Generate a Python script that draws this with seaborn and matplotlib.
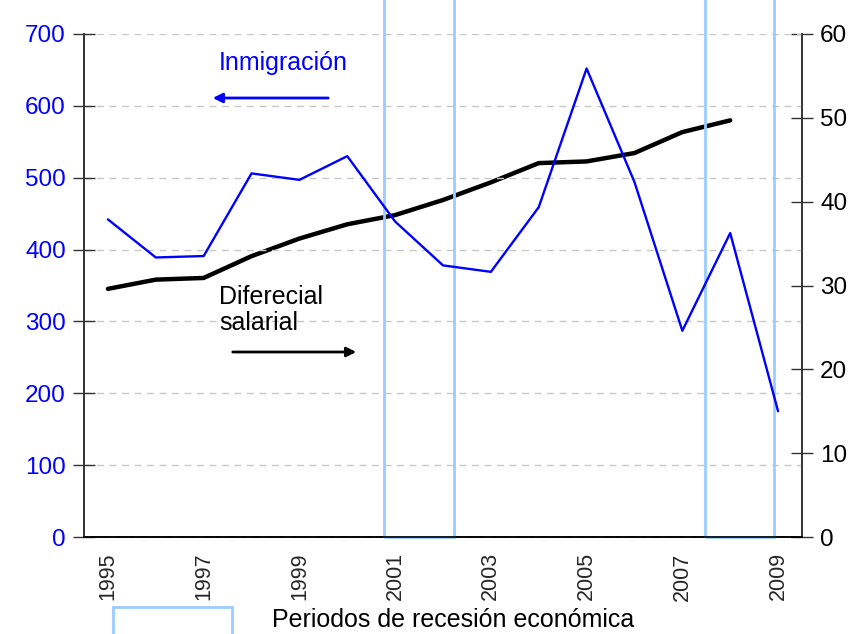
import numpy as np
import pandas as pd
import matplotlib
matplotlib.use("Agg")
import matplotlib.pyplot as plt
from matplotlib.patches import Rectangle
import seaborn as sns

# datos
years = list(range(1995, 2010))
inmigracion = [442, 389, 391, 506, 497, 530, 439, 378, 369, 459, 652, 494, 287, 423, 175]
diferencial = [29.6, 30.7, 30.9, 33.5, 35.6, 37.3, 38.4, 40.2, 42.3, 44.6, 44.8, 45.8, 48.3, 49.7, np.nan]
recesiones = [(2000.77, 2002.22), (2007.47, 2008.91)]
left_ticks = [0, 100, 200, 300, 400, 500, 600, 700]
right_ticks = [0, 10, 20, 30, 40, 50, 60]

BLUE = "#0000FF"
LIGHT = "#99CCFF"

sns.set_style("white")
plt.rcParams["font.family"] = ["Liberation Sans", "DejaVu Sans"]

df = pd.DataFrame({"pos": np.arange(len(years)), "year": years,
                   "inm": inmigracion, "dif": diferencial})

fig = plt.figure(figsize=(8.65, 6.34), dpi=100)
ax = fig.add_axes([84 / 865, 1 - 537 / 634, 718 / 865, 503 / 634])
ax2 = ax.twinx()

# periodos de recesión (rectángulos que salen por arriba del eje)
for a, b in recesiones:
    x0 = a - years[0]
    ax.add_patch(Rectangle((x0, 0), b - a, 900, fill=False, edgecolor=LIGHT,
                           lw=2, clip_on=False, zorder=1))

sns.lineplot(data=df, x="pos", y="inm", ax=ax, color=BLUE, lw=1.7, zorder=3)
sns.lineplot(data=df.dropna(), x="pos", y="dif", ax=ax2, color="black", lw=3.2, zorder=3)

ax.set_xlim(-0.5, len(years) - 0.5)
ax.set_ylim(0, 700)
ax2.set_ylim(0, 60)
ax.set_yticks(left_ticks)
ax2.set_yticks(right_ticks)
ax.set_xticks(df["pos"][::2])
ax.set_xticklabels(df["year"][::2], rotation=90, fontsize=15.5)
ax.set_xticks(np.arange(-0.5, len(years), 1), minor=True)
ax.tick_params(axis="x", which="major", length=0, pad=11)
ax.tick_params(axis="x", which="minor", length=7, width=1.2, color="black", direction="out")
ax.tick_params(axis="y", labelsize=17.5, labelcolor=BLUE, length=16, width=1,
               direction="inout", color="#333333", pad=5)
ax2.tick_params(axis="y", labelsize=17.5, labelcolor="black", length=16, width=1,
                direction="inout", color="#333333", pad=5)
ax.set_xlabel("")
ax.set_ylabel("")
ax2.set_ylabel("")

ax.yaxis.grid(True, linestyle=(0, (5, 4)), color="#c8c8c8", lw=1)
ax.set_axisbelow(True)
for a_ in (ax, ax2):
    a_.spines["top"].set_visible(False)
    for s in ("left", "right", "bottom"):
        a_.spines[s].set_color("#333333")
        a_.spines[s].set_linewidth(1.2)
ax2.spines["bottom"].set_color("black")
ax.spines["bottom"].set_color("black")
ax.set_zorder(ax2.get_zorder() + 1)
ax.patch.set_visible(False)

# anotaciones
fig.text(219 / 865, 1 - 63 / 634, "Inmigración", color=BLUE, fontsize=18, va="center")
fig.text(219 / 865, 1 - 310 / 634, "Diferecial\nsalarial", color="black", fontsize=18,
         va="center", linespacing=1.15)
ax.annotate("", xy=(210 / 865, 1 - 98 / 634), xytext=(331 / 865, 1 - 98 / 634),
            xycoords="figure fraction", textcoords="figure fraction",
            arrowprops=dict(arrowstyle="-|>", color=BLUE, lw=2, mutation_scale=14))
ax.annotate("", xy=(359 / 865, 1 - 352 / 634), xytext=(230 / 865, 1 - 352 / 634),
            xycoords="figure fraction", textcoords="figure fraction",
            arrowprops=dict(arrowstyle="-|>", color="black", lw=2, mutation_scale=14))

# leyenda inferior
fig.patches.append(Rectangle((113 / 865, -0.05), 119 / 865, 0.05 + 1 - 607 / 634,
                             transform=fig.transFigure, fill=False,
                             edgecolor=LIGHT, lw=2))
fig.text(272 / 865, 1 - 620 / 634, "Periodos de recesión económica", fontsize=18,
         va="center", color="black")

fig.savefig("out.png", dpi=100)
